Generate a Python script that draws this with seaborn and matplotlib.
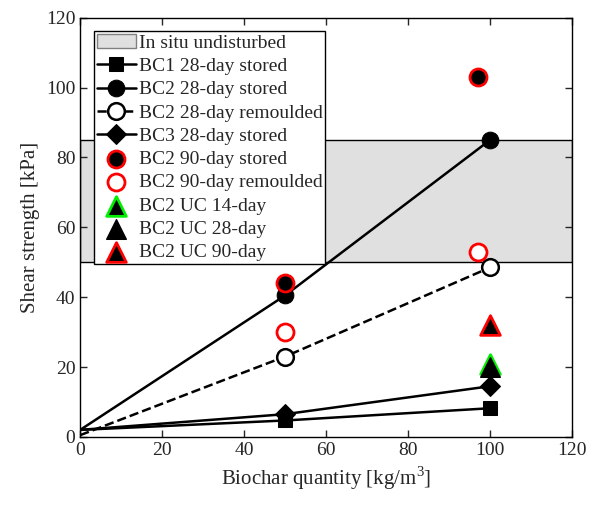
import numpy as np
import pandas as pd
import matplotlib
matplotlib.use('Agg')
import matplotlib.pyplot as plt
import seaborn as sns
from matplotlib.patches import Patch

# --- data ---
x_line = [0, 50, 100]
bc1_stored = [2, 4.7, 8.2]
bc2_stored = [2, 40.5, 85]
bc2_remoulded = [0.5, 23, 48.5]
bc3_stored = [2, 6.5, 14.5]

x_90 = [50, 97]
bc2_90_stored = [44, 103]
bc2_90_remoulded = [30, 53]

x_uc = [100]
uc_14 = [21]
uc_28 = [20]
uc_90 = [32]

insitu_low, insitu_high = 50, 85

sns.set_style('ticks')
plt.rcParams['font.family'] = ['Liberation Serif', 'DejaVu Serif']
plt.rcParams['mathtext.fontset'] = 'custom'
plt.rcParams['mathtext.rm'] = 'Liberation Serif'

fig = plt.figure(figsize=(5.94, 5.08), dpi=100)
ax = fig.add_axes([0.135, 0.140, 0.828, 0.825])

ax.axhspan(insitu_low, insitu_high, facecolor='#e0e0e0', edgecolor='k', linewidth=1.0, zorder=0)

lw = 1.8
sns.lineplot(x=x_line, y=bc1_stored, ax=ax, color='k', lw=lw, marker='s', markersize=10,
             markeredgecolor='k', label='BC1 28-day stored')
sns.lineplot(x=x_line, y=bc2_stored, ax=ax, color='k', lw=lw, marker='o', markersize=12,
             markeredgecolor='k', label='BC2 28-day stored')
sns.lineplot(x=x_line, y=bc2_remoulded, ax=ax, color='k', lw=lw, linestyle='--', dashes=(4, 3),
             marker='o', markersize=12, markerfacecolor='white', markeredgecolor='k',
             markeredgewidth=1.8, label='BC2 28-day remoulded')
sns.lineplot(x=x_line, y=bc3_stored, ax=ax, color='k', lw=lw, marker='D', markersize=10,
             markeredgecolor='k', label='BC3 28-day stored')

sns.scatterplot(x=x_90, y=bc2_90_stored, ax=ax, marker='o', s=150, color='k',
                edgecolor='red', linewidth=2, zorder=5, label='BC2 90-day stored')
sns.scatterplot(x=x_90, y=bc2_90_remoulded, ax=ax, marker='o', s=150, color='white',
                edgecolor='red', linewidth=2, zorder=5, label='BC2 90-day remoulded')
sns.scatterplot(x=x_uc, y=uc_14, ax=ax, marker='^', s=200, color='k',
                edgecolor='#00ee00', linewidth=2, zorder=5, label='BC2 UC 14-day')
sns.scatterplot(x=x_uc, y=uc_28, ax=ax, marker='^', s=200, color='k',
                edgecolor='k', linewidth=1, zorder=6, label='BC2 UC 28-day')
sns.scatterplot(x=x_uc, y=uc_90, ax=ax, marker='^', s=200, color='k',
                edgecolor='red', linewidth=2, zorder=5, label='BC2 UC 90-day')

ax.set_xlim(0, 120)
ax.set_ylim(0, 120)
ax.set_xticks(np.arange(0, 121, 20))
ax.set_yticks(np.arange(0, 121, 20))
ax.tick_params(direction='in', top=True, right=True, labelsize=14, length=5, width=1)
for s in ax.spines.values():
    s.set_linewidth(1.0)
    s.set_color('k')
ax.set_xlabel('Biochar quantity [kg/m$^3$]', fontsize=15)
ax.set_ylabel('Shear strength [kPa]', fontsize=15)

handles, labels = ax.get_legend_handles_labels()
patch = Patch(facecolor='#e0e0e0', edgecolor='#808080', label='In situ undisturbed')
leg = ax.legend([patch] + handles, ['In situ undisturbed'] + labels, loc='upper left',
                fontsize=14, frameon=True, fancybox=False, edgecolor='k', framealpha=1,
                borderaxespad=0.7, handlelength=2.0, handletextpad=0.15, labelspacing=0.29,
                borderpad=0.15)
leg.get_frame().set_linewidth(1.0)

# no marker at the origin (done after the legend so the legend keeps its marker)
for line in ax.lines:
    if len(line.get_xdata()) == 3:
        line.set_markevery([1, 2])

fig.savefig('out.png', dpi=100)
